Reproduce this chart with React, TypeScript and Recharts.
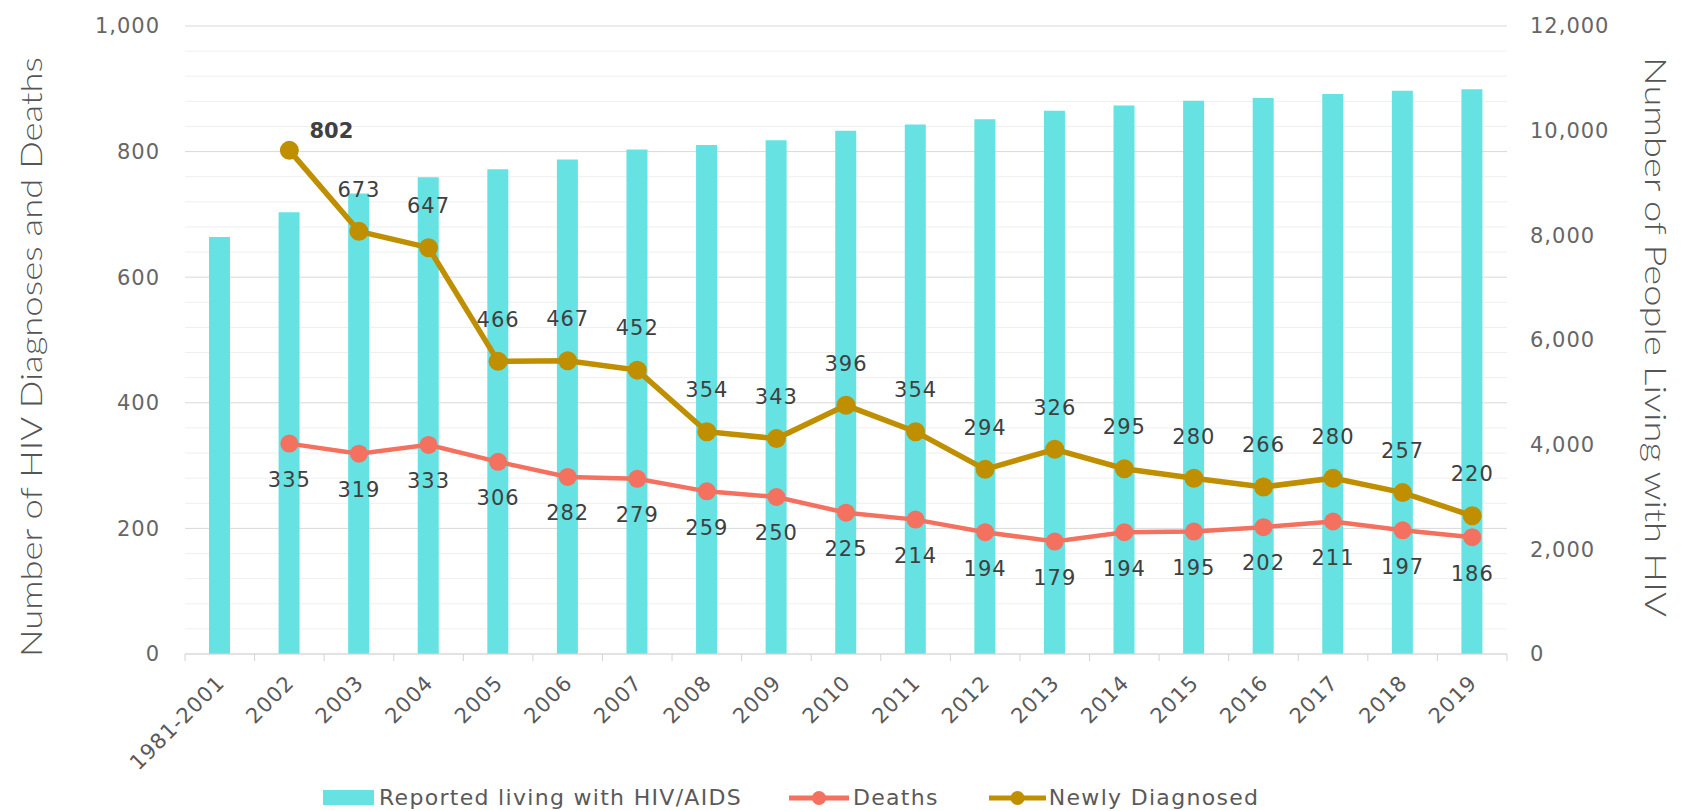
import { ComposedChart, Bar, Line, XAxis, YAxis, CartesianGrid, LabelList, Legend } from 'recharts'

const categories = ['1981-2001', '2002', '2003', '2004', '2005', '2006', '2007', '2008', '2009', '2010', '2011', '2012', '2013', '2014', '2015', '2016', '2017', '2018', '2019']
const livingWithHiv = [7970, 8440, 8800, 9110, 9265, 9450, 9640, 9725, 9815, 10000, 10120, 10220, 10380, 10480, 10570, 10625, 10700, 10765, 10790]
const deaths = [null, 335, 319, 333, 306, 282, 279, 259, 250, 225, 214, 194, 179, 194, 195, 202, 211, 197, 186]
const newlyDiagnosed = [null, 802, 673, 647, 466, 467, 452, 354, 343, 396, 354, 294, 326, 295, 280, 266, 280, 257, 220]

const leftTicks = [0, 200, 400, 600, 800, 1000]
const rightTicks = [0, 2000, 4000, 6000, 8000, 10000, 12000]
const minorGrid = [40, 80, 120, 160, 240, 280, 320, 360, 440, 480, 520, 560, 640, 680, 720, 760, 840, 880, 920, 960]

const data = categories.map((year, i) => ({
  year,
  living: livingWithHiv[i],
  deaths: deaths[i],
  newly: newlyDiagnosed[i],
}))

const W = 1667
const H = 803
const margin = { top: 18, right: 68, bottom: 0, left: 77 }
const AXIS_W = 100
const plotWidth = W - margin.left - margin.right - AXIS_W * 2

const CYAN = '#66E2E3'
const SALMON = '#F4705F'
const GOLD = '#BF8F00'
const NUM_FONT = '"DejaVu Sans", Verdana, sans-serif'

const fmt = (v: number) => v.toLocaleString('en-US')

function XTick({ x, y, payload, index }: any) {
  const step = plotWidth / categories.length
  const tx = x + 6
  const ty = y + 30
  return (
    <g>
      <line x1={x - step / 2} x2={x - step / 2} y1={y} y2={y + 7} stroke="#d3d3d3" />
      {index === categories.length - 1 && (
        <line x1={x + step / 2} x2={x + step / 2} y1={y} y2={y + 7} stroke="#d3d3d3" />
      )}
      <text
        x={tx}
        y={ty}
        transform={`rotate(-45 ${tx} ${ty})`}
        textAnchor="end"
        fontSize={21}
        letterSpacing={1}
        fill="#595959"
        fontFamily={NUM_FONT}
      >
        {payload.value}
      </text>
    </g>
  )
}

function AxisTitle({ viewBox, side, text, length }: any) {
  const { x, y, width, height } = viewBox
  const cx = side === 'left' ? x - 55 : x + width + 50
  const cy = side === 'left' ? y + height / 2 + 17 : y + height / 2 - 3
  return (
    <text
      x={cx}
      y={cy}
      transform={`rotate(${side === 'left' ? -90 : 90} ${cx} ${cy})`}
      textAnchor="middle"
      dominantBaseline="central"
      textLength={length}
      lengthAdjust="spacingAndGlyphs"
      fontSize={30}
      fontWeight={300}
      fontFamily="Lato, 'Open Sans', sans-serif"
      fill="#555"
    >
      {text}
    </text>
  )
}

const firstNewly = newlyDiagnosed.findIndex((v) => v != null)

function NewlyLabel({ x, y, value, index }: any) {
  if (value == null) return null
  if (index === firstNewly) {
    return (
      <text x={x + 42} y={y - 20} dy="0.35em" textAnchor="middle" fontSize={21} fontWeight="bold" fill="#404040" fontFamily={NUM_FONT}>
        {value}
      </text>
    )
  }
  return (
    <text x={x} y={y - 42} dy="0.35em" textAnchor="middle" fontSize={21} letterSpacing={1} fill="#404040" fontFamily={NUM_FONT}>
      {value}
    </text>
  )
}

function DeathsLabel({ x, y, value }: any) {
  if (value == null) return null
  return (
    <text x={x} y={y + 36} dy="0.35em" textAnchor="middle" fontSize={21} letterSpacing={1} fill="#404040" fontFamily={NUM_FONT}>
      {value}
    </text>
  )
}

function LineIcon({ color, width }: { color: string; width: number }) {
  return (
    <svg width={width} height={16} style={{ display: 'block' }}>
      <line x1={0} x2={width} y1={8} y2={8} stroke={color} strokeWidth={5} />
      <circle cx={width / 2} cy={8} r={7} fill={color} />
    </svg>
  )
}

function ChartLegend() {
  const text = { fontSize: 22, letterSpacing: 1.3, color: '#595959', fontFamily: NUM_FONT }
  return (
    <div style={{ display: 'flex', alignItems: 'center', paddingLeft: 315 }}>
      <span style={{ width: 51, height: 15, background: CYAN, display: 'inline-block' }} />
      <span style={{ ...text, marginLeft: 5 }}>Reported living with HIV/AIDS</span>
      <span style={{ marginLeft: 47 }}>
        <LineIcon color={SALMON} width={60} />
      </span>
      <span style={{ ...text, marginLeft: 4 }}>Deaths</span>
      <span style={{ marginLeft: 50 }}>
        <LineIcon color={GOLD} width={57} />
      </span>
      <span style={{ ...text, marginLeft: 3 }}>Newly Diagnosed</span>
    </div>
  )
}

export default function App() {
  return (
    <div style={{ width: W, height: H, background: '#fff' }}>
      <ComposedChart width={W} height={H} data={data} margin={margin}>
        <CartesianGrid yAxisId="left" vertical={false} horizontalValues={minorGrid} stroke="#efefef" />
        <CartesianGrid yAxisId="left" vertical={false} stroke="#d9d9d9" />
        <XAxis
          dataKey="year"
          height={157}
          interval={0}
          tickLine={false}
          tickSize={0}
          tickMargin={0}
          axisLine={{ stroke: '#d9d9d9' }}
          tick={<XTick />}
        />
        <YAxis
          yAxisId="left"
          orientation="left"
          width={AXIS_W}
          domain={[0, 1000]}
          ticks={leftTicks}
          tickFormatter={fmt}
          axisLine={false}
          tickLine={false}
          tickSize={0}
          tickMargin={25}
          tick={{ fill: '#666', fontSize: 21, letterSpacing: 1, fontFamily: NUM_FONT }}
          label={<AxisTitle side="left" text="Number of HIV Diagnoses and Deaths" length={600} />}
        />
        <YAxis
          yAxisId="right"
          orientation="right"
          width={AXIS_W}
          domain={[0, 12000]}
          ticks={rightTicks}
          tickFormatter={fmt}
          axisLine={false}
          tickLine={false}
          tickSize={0}
          tickMargin={23}
          tick={{ fill: '#666', fontSize: 21, letterSpacing: 1, fontFamily: NUM_FONT, textAnchor: 'start' }}
          label={<AxisTitle side="right" text="Number of People Living with HIV" length={560} />}
        />
        <Legend
          layout="horizontal"
          verticalAlign="middle"
          align="center"
          wrapperStyle={{ top: 777, left: 0, width: W }}
          content={<ChartLegend />}
        />
        <Bar yAxisId="right" dataKey="living" name="Reported living with HIV/AIDS" fill={CYAN} barSize={21} isAnimationActive={false} />
        <Line
          yAxisId="left"
          dataKey="deaths"
          name="Deaths"
          stroke={SALMON}
          strokeWidth={4.5}
          dot={{ r: 9, fill: SALMON, stroke: SALMON, strokeWidth: 0 }}
          activeDot={false}
          isAnimationActive={false}
        >
          <LabelList dataKey="deaths" content={<DeathsLabel />} />
        </Line>
        <Line
          yAxisId="left"
          dataKey="newly"
          name="Newly Diagnosed"
          stroke={GOLD}
          strokeWidth={5.5}
          dot={{ r: 9.5, fill: GOLD, stroke: GOLD, strokeWidth: 0 }}
          activeDot={false}
          isAnimationActive={false}
        >
          <LabelList dataKey="newly" content={<NewlyLabel />} />
        </Line>
      </ComposedChart>
    </div>
  )
}
